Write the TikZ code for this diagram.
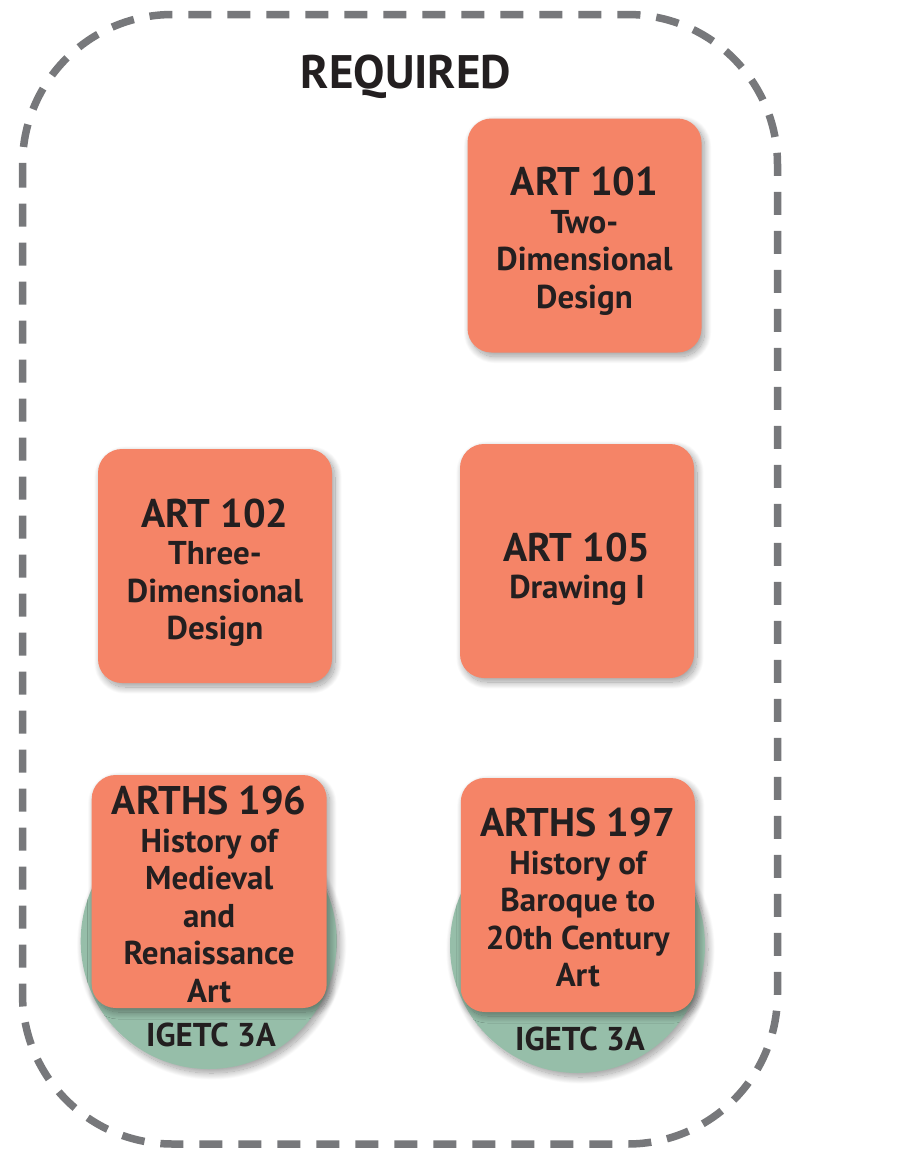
\documentclass[tikz,border=0pt]{standalone}
\usepackage{fontspec}
\setmainfont{PT Sans}
\usetikzlibrary{shadows.blur}
\definecolor{salmon}{HTML}{F58467}
\definecolor{sage}{HTML}{96BEA9}
\definecolor{ink}{HTML}{231F20}
\definecolor{dashgray}{HTML}{77787B}
\tikzset{
  coursebox/.style={draw=none, fill=salmon, rounded corners=24pt, minimum width=234pt, minimum height=234pt, inner sep=0pt,
    blur shadow={shadow xshift=3pt, shadow yshift=-4pt, shadow blur radius=7pt, shadow opacity=40, shadow blur steps=20}},
  igetcdisc/.style={circle, draw=none, fill=sage, minimum size=256pt, inner sep=0pt,
    blur shadow={shadow xshift=3pt, shadow yshift=-4pt, shadow blur radius=7pt, shadow opacity=40, shadow blur steps=20}},
  coursetext/.style={anchor=north, inner sep=0pt, align=center, text=ink, font=\fontsize{33}{37.5}\selectfont\bfseries},
  igetctext/.style={anchor=base, inner sep=0pt, text=ink, font=\fontsize{33}{38}\selectfont\bfseries},
  bordline/.style={draw=dashgray, line width=7.5pt, dash pattern=on 23pt off 16pt, rounded corners=150pt},
}
\newcommand{\ctitle}[1]{{\fontsize{40}{37.5}\selectfont #1}}
\begin{document}
\begin{tikzpicture}[x=1pt,y=-1pt]
\useasboundingbox (0,0) rectangle (915,1149);
\draw[bordline] (22.5,14.5) rectangle (777.5,1144);
\node[anchor=base, inner sep=0pt, text=ink, font=\fontsize{47}{50}\selectfont\bfseries] (req) at (406,88) {REQUIRED};

\node[coursebox] (a101) at (584.5,235.5) {};
\node[coursetext] (t101) at (584.5,167) {\ctitle{ART 101}\\Two-\\Dimensional\\Design};

\node[coursebox] (a102) at (215,566) {};
\node[coursetext] (t102) at (215,498.6) {\ctitle{ART 102}\\Three-\\Dimensional\\Design};

\node[coursebox] (a105) at (577,561) {};
\node[coursetext] (t105) at (577,532.3) {\ctitle{ART 105}\\Drawing I};

\node[igetcdisc] (c196) at (208.7,941) {};
\node[coursebox, minimum width=235pt, minimum height=233pt] (h196) at (209.2,891.5) {};
\node[coursetext] (t196) at (209.2,786) {\ctitle{ARTHS 196}\\History of\\Medieval\\and\\Renaissance\\Art};
\node[igetctext] (g196) at (211,1046.7) {IGETC 3A};

\node[igetcdisc, minimum size=255pt] (c197) at (577.5,945.5) {};
\node[coursebox, minimum width=234pt, minimum height=234pt] (h197) at (577.8,895) {};
\node[coursetext] (t197) at (577.8,808) {\ctitle{ARTHS 197}\\History of\\Baroque to\\20th Century\\Art};
\node[igetctext] (g197) at (580,1050) {IGETC 3A};
\end{tikzpicture}
\end{document}
